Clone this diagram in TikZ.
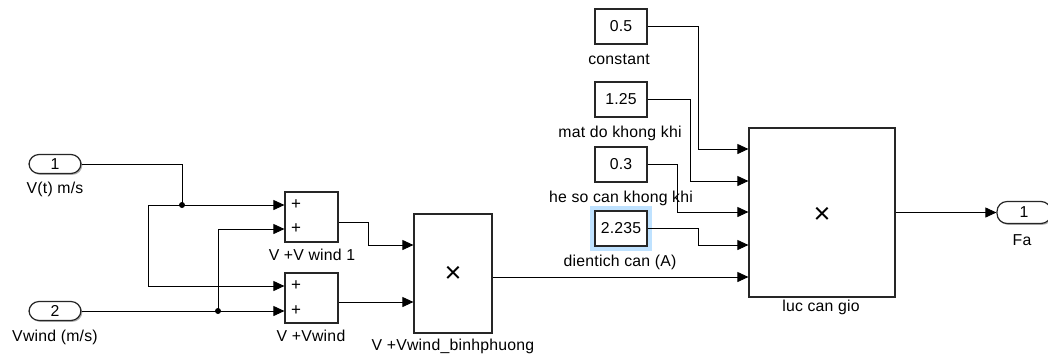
\documentclass[tikz,border=0pt]{standalone}
\usepackage{fontspec}
\setmainfont{Liberation Sans}[LetterSpace=1.5]
\usetikzlibrary{arrows.meta,shadows}

\tikzset{
  blk/.style={draw=black!85, line width=1.2pt, fill=white, inner sep=0pt,
    drop shadow={shadow xshift=1.4pt, shadow yshift=-1.4pt, fill=black, opacity=0.3}},
  port/.style={blk, rounded corners=10pt, minimum width=52pt, minimum height=19pt},
  cst/.style={blk, minimum width=52pt, minimum height=35pt},
  lbl/.style={anchor=base, inner sep=0pt},
  plus/.style={font=\fontsize{17}{17}\selectfont, inner sep=0pt},
  times/.style={font=\fontsize{29}{29}\selectfont, inner sep=0pt},
  sig/.style={draw=black, line width=0.9pt, -{Triangle[length=11pt,width=10pt]}},
  wire/.style={draw=black, line width=0.9pt},
  dot/.style={circle, fill=black, inner sep=0pt, minimum size=6pt},
  every node/.append style={font=\fontsize{15.8}{18}\selectfont},
}

\begin{document}
\begin{tikzpicture}[x=1pt, y=-1pt]
  \useasboundingbox[fill=white] (0,0) rectangle (1048,360);

  % inports
  \node[port] (in1) at (55,164) {1};
  \node[lbl] (in1l) at (55,193) {V(t) m/s};
  \node[port] (in2) at (55,311) {2};
  \node[lbl] (in2l) at (55,341) {Vwind (m/s)};

  % sum blocks
  \node[blk, minimum width=53pt, minimum height=50pt] (sum1) at (311.5,217) {};
  \node[lbl] (sum1l) at (312,260) {V +V wind 1};
  \node[blk, minimum width=53pt, minimum height=50pt] (sum2) at (311.5,298) {};
  \node[lbl] (sum2l) at (311,341) {V +Vwind};
  \node[plus] (s1a) at (296,205) {+};
  \node[plus] (s1b) at (296,229) {+};
  \node[plus] (s2a) at (296,286) {+};
  \node[plus] (s2b) at (296,311) {+};

  % product of the two sums
  \node[blk, minimum width=78pt, minimum height=119pt] (prod) at (453,273.5) {};
  \node[times] (prodx) at (453,274) {×};
  \node[lbl] (prodl) at (453,350) {V +Vwind\_binhphuong};

  % constants
  \node[cst] (c1) at (621,26.5) {0.5};
  \node[lbl] (c1l) at (619,64) {constant};
  \node[cst] (c2) at (621,99.5) {1.25};
  \node[lbl] (c2l) at (620,137) {mat do khong khi};
  \node[cst] (c3) at (621,164.5) {0.3};
  \node[lbl] (c3l) at (621,202) {he so can khong khi};
  \node[draw=blue!45!cyan!25, line width=4pt, minimum width=58pt, minimum height=41pt] (c4h) at (621,228.5) {};
  \node[cst] (c4) at (621,228.5) {2.235};
  \node[lbl] (c4l) at (620,266) {dientich can (A)};

  % drag force product
  \node[blk, minimum width=146pt, minimum height=169pt] (luc) at (822,212.5) {};
  \node[times] (lucx) at (822,215) {×};
  \node[lbl] (lucl) at (821,311) {luc can gio};

  % outport
  \node[port, minimum width=54pt, minimum height=22pt] (out) at (1024,212.5) {1};
  \node[lbl] (outl) at (1022,245) {Fa};

  % branch points
  \coordinate (j1) at (182,205);
  \coordinate (j2) at (218,311);

  % wiring on the left
  \draw[wire] (in1.east) -| (j1);
  \draw[sig] (j1) -- (sum1.west |- j1);
  \draw[sig] (j1) -- (148,205) |- (sum2.west |- s2a);
  \draw[sig] (in2.east) -- (sum2.west |- j2);
  \draw[sig] (j2) |- (sum1.west |- s1b);
  \node[dot] (d1) at (j1) {};
  \node[dot] (d2) at (j2) {};

  % sums into product
  \draw[sig] (sum1.east |- 0,222) -| (368,245) -- (prod.west |- 0,245);
  \draw[sig] (sum2.east |- 0,302) -- (prod.west |- 0,302);

  % inputs of the drag force block
  \draw[sig] (c1.east) -| (698,149) -- (luc.west |- 0,149);
  \draw[sig] (c2.east) -| (690,181) -- (luc.west |- 0,181);
  \draw[sig] (c3.east) -| (677,212) -- (luc.west |- 0,212);
  \draw[sig] (c4.east) -| (698,245) -- (luc.west |- 0,245);
  \draw[sig] (prod.east |- 0,277) -- (luc.west |- 0,277);

  % output
  \draw[sig] (luc.east |- out) -- (out.west);
\end{tikzpicture}
\end{document}
